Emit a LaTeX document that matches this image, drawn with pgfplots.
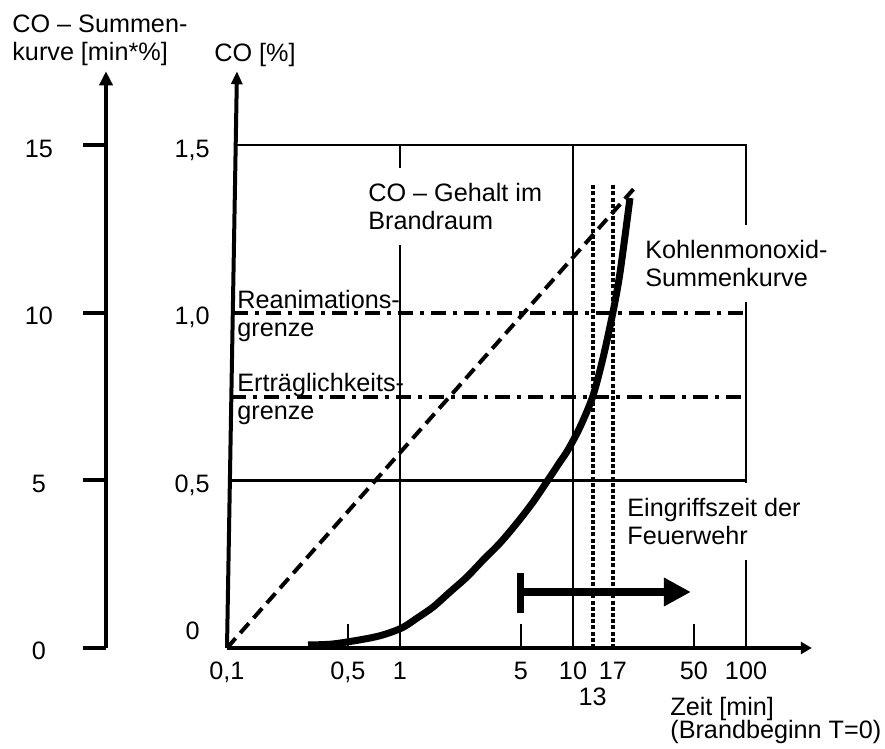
\documentclass[border=0pt]{standalone}
\usepackage{fontspec}
\setmainfont{Liberation Sans}
\usepackage{pgfplots}
\pgfplotsset{compat=1.18}
\usetikzlibrary{arrows.meta}
\begin{document}
\begin{tikzpicture}[font=\fontsize{12.6}{14}\selectfont]
\path[use as bounding box] (-113.5pt,-50.5pt) rectangle (329pt,324pt);
% ---------- left axis: CO-Summenkurve [min*%] ----------
\begin{axis}[
  at={(-60.5pt,0pt)}, anchor=south west,
  scale only axis, width=1pt, height=288.36pt,
  xmin=0, xmax=1, ymin=0, ymax=17.2,
  axis x line=none, axis y line=left,
  y axis line style={line width=2.25pt, -{Triangle[length=7pt,width=6.5pt]}},
  ytick={0,5,10,15}, yticklabels={},
  tick align=outside, major tick length=11.5pt,
  ytick style={line width=2pt, black},
  clip=false,
]
\node[anchor=base, inner sep=0pt, xshift=-33.5pt, yshift=-6pt] at (axis cs:0,15) {15};
\node[anchor=base, inner sep=0pt, xshift=-33.5pt, yshift=-6pt] at (axis cs:0,10) {10};
\node[anchor=base, inner sep=0pt, xshift=-33.5pt, yshift=-6pt] at (axis cs:0,5) {5};
\node[anchor=base, inner sep=0pt, xshift=-33.5pt, yshift=-6pt] at (axis cs:0,0) {0};
\end{axis}
% ---------- main axis: CO [%] over Zeit [min] ----------
\begin{axis}[
  at={(0pt,0pt)}, anchor=south west,
  scale only axis, width=292.39pt, height=288.36pt,
  xmode=log, log basis x=10,
  xmin=0.1, xmax=240, ymin=0, ymax=1.72,
  axis x line=bottom, axis y line=none,
  x axis line style={line width=1.7pt, -{Triangle[length=5.5pt,width=6pt]}},
  xtick={0.5,5,50}, xticklabels={{0,5},{5},{50}},
  extra x ticks={0.1,1,10,17,100},
  extra x tick labels={{0,1},{1},{10},{17},{100}},
  extra x tick style={major tick length=0pt},
  tick align=inside, major tick length=12pt,
  xtick style={line width=1.25pt, black},
  xticklabel style={yshift=-3.5pt},
  clip=false,
]
% slanted y axis line with arrow
\addplot[black, line width=2pt, -{Triangle[length=6.5pt,width=5.5pt]}] coordinates {(0.1,0) (0.1142,1.72)};
% grid / frame
\addplot[black, line width=1.4pt] coordinates {(0.1127,1.5) (100,1.5) (100,0)};
\addplot[black, line width=1.4pt] coordinates {(0.1041,0.5) (100,0.5)};
\addplot[black, line width=1.4pt] coordinates {(1,0) (1,1.5)};
\addplot[black, line width=1.4pt] coordinates {(10,0) (10,1.5)};
% limits (dash-dot)
\addplot[black, line width=2pt, dash pattern=on 7.5pt off 3.5pt on 2pt off 3.5pt] coordinates {(0.1083,1.0) (100,1.0)};
\addplot[black, line width=2pt, dash pattern=on 7.5pt off 3.5pt on 2pt off 3.5pt] coordinates {(0.106,0.75) (100,0.75)};
% CO content in the fire room (dashed)
\addplot[black, line width=2pt, dash pattern=on 6.5pt off 3.5pt] coordinates {(0.1,0) (23.5,1.381)};
% dotted verticals at 13 and 17 min
\addplot[black, line width=2.2pt, dash pattern=on 2pt off 1.1pt] coordinates {(13,0) (13,1.381)};
\addplot[black, line width=2.2pt, dash pattern=on 2pt off 1.1pt] coordinates {(17,0) (17,1.381)};
% CO cumulative curve
\addplot[black, line width=3.5pt, smooth] coordinates {
 (0.294,0.009) (0.410,0.012) (0.628,0.027) (0.797,0.039) (1.027,0.060)
 (1.254,0.089) (1.552,0.122) (1.945,0.167) (2.440,0.212) (3.019,0.262)
 (3.785,0.313) (4.746,0.373) (5.873,0.435) (7.364,0.510) (8.41,0.555)
 (9.357,0.591) (10.98,0.659) (13.0,0.75) (14.91,0.865) (17.0,1.0)
 (18.45,1.10) (19.71,1.205) (21.35,1.342)};
% intervention time arrow
\addplot[black, line width=4.2pt, -{Triangle[length=13.5pt,width=13.5pt]}] coordinates {(5,0.167) (48,0.167)};
\addplot[black, line width=3.5pt] coordinates {(5,0.104) (5,0.224)};
% y tick labels of the main axis
\node[anchor=base east, inner sep=0pt, xshift=-8.5pt, yshift=-6pt] at (axis cs:0.1,1.5) {1,5};
\node[anchor=base east, inner sep=0pt, xshift=-8.5pt, yshift=-6pt] at (axis cs:0.1,1.0) {1,0};
\node[anchor=base east, inner sep=0pt, xshift=-8.5pt, yshift=-6pt] at (axis cs:0.1,0.5) {0,5};
\node[anchor=base east, inner sep=0pt, xshift=-13.5pt, yshift=4pt] at (axis cs:0.1,0) {0};
\node[anchor=north, inner sep=0pt, yshift=-20pt] at (axis cs:13,0) {13};
\end{axis}
% ---------- texts ----------
\node[anchor=north west, inner sep=0pt, align=left] at (-107.5pt,316.5pt) {CO – Summen-\\kurve [min*\%]};
\node[anchor=north west, inner sep=0pt] at (-6.5pt,302.5pt) {CO [\%]};
\node[anchor=north west, inner sep=0pt, align=left] at (5pt,179pt) {Reanimations-\\grenze};
\node[anchor=north west, inner sep=0pt, align=left] at (5pt,137.5pt) {Erträglichkeits-\\grenze};
\node[anchor=north west, fill=white, inner xsep=3pt, inner ysep=7.5pt, align=left] at (67.5pt,240pt) {CO – Gehalt im\\Brandraum};
\node[anchor=north west, fill=white, inner xsep=3pt, inner ysep=7.5pt, align=left] at (206pt,211.5pt) {Kohlenmonoxid-\\Summenkurve};
\node[anchor=north west, fill=white, inner xsep=3pt, inner ysep=7.5pt, align=left] at (197pt,82.5pt) {Eingriffszeit der\\Feuerwehr};
\node[anchor=north west, inner sep=0pt] at (221.5pt,-24.5pt) {Zeit [min]};
\node[anchor=north west, inner sep=0pt] at (221.5pt,-36pt) {(Brandbeginn T=0)};
\end{tikzpicture}
\end{document}
